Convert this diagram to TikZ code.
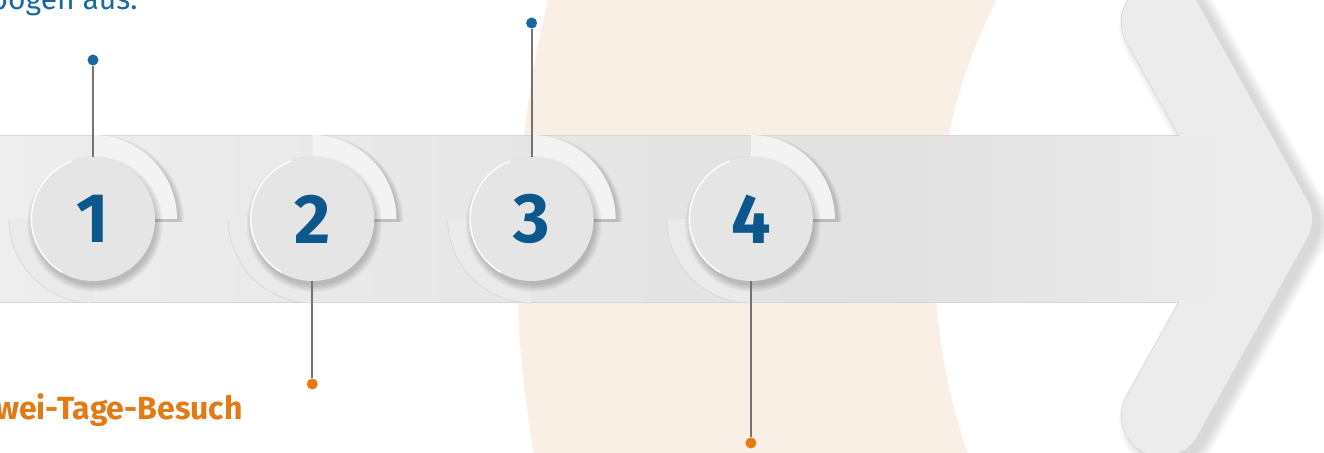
\documentclass[tikz,border=0pt]{standalone}
\usepackage{fontspec}
\setmainfont{Fira Sans}
\definecolor{peach}{RGB}{250,239,228}
\definecolor{bandL}{RGB}{238,238,238}
\definecolor{bandM}{RGB}{225,225,225}
\definecolor{bandR}{RGB}{236,236,236}
\definecolor{rim}{RGB}{214,214,214}
\definecolor{disc}{RGB}{229,229,229}
\definecolor{petal}{RGB}{243,243,243}
\definecolor{lowpetal}{RGB}{234,234,234}
\definecolor{navy}{RGB}{12,88,140}
\definecolor{sky}{RGB}{26,104,160}
\definecolor{tangerine}{RGB}{226,122,22}
\definecolor{stem}{RGB}{115,115,115}
\tikzset{
  station/.style={circle,fill=disc,minimum size=62pt,inner sep=0pt,text=navy,
    font=\fontsize{35}{35}\selectfont\bfseries},
  pin/.style={draw=stem,line width=0.9pt},
  dot/.style={circle,fill=#1,minimum size=5.5pt,inner sep=0pt},
  dot/.default=sky,
  haze/.style={fill=black,opacity=0.035},
  headline/.style={line cap=round,line join=round},
}

\begin{document}
\begin{tikzpicture}[x=0.5pt,y=0.5pt]
  \useasboundingbox (0,-234) rectangle (1324,219);
  \clip (0,-234) rectangle (1324,219);
  % background ring
  \fill[peach,even odd rule] (1617,-41) circle (1100) (1515,-41) circle (580);
  % arrow head with soft shadow
  \foreach \k in {1,...,8}{
    \pgfmathsetmacro\w{39+1.5*\k}
    \draw[black,opacity=0.018,line width=\w pt,headline] (1170,192) -- (1279.5,-5) -- (1170,-202);
  }
  \draw[rim,line width=41.2pt,headline] (1162,197) -- (1271.5,0) -- (1162,-197);
  \draw[bandR,line width=40.5pt,headline] (1162,197) -- (1271.5,0) -- (1162,-197);
  % shaft
  \shade[left color=bandL,right color=bandM] (-5,-83.5) rectangle (881,83.5);
  \shade[left color=bandM,right color=bandR] (880,-83.5) rectangle (1230,83.5);
  \draw[rim,line width=0.5pt] (0,83.5) -- (1178.8,83.5) (0,-83.5) -- (1178.8,-83.5);
  % stations
  \foreach \i in {1,...,4}{
    \pgfmathsetmacro\xc{93+219.3*(\i-1)}
    \begin{scope}[shift={(\xc,0)}]
      \foreach \k in {1,...,5}
        \fill[haze] (4,-3) -- ++(82+\k,0) arc[start angle=0,end angle=90,radius=82+\k] -- cycle;
      \fill[petal] (0,0) -- (84,0) arc[start angle=0,end angle=90,radius=84] -- cycle;
      \fill[lowpetal] (0,0) -- (-84,0) arc[start angle=180,end angle=270,radius=84] -- cycle;
      \draw[rim,line width=0.3pt] (-84,0) arc[start angle=180,end angle=270,radius=84];
      \foreach \k in {1,...,6}
        \fill[haze] (2,-5) circle (60+1.3*\k);
      \node[station] (s\i) at (0,0) {\i};
      \draw[white,line width=0.7pt] (110:61.6) arc[start angle=110,end angle=240,radius=61.6];
    \end{scope}
  }
  % pins
  \foreach \i/\y/\c in {1/159/sky,2/-165/tangerine,3/196/sky,4/-224/tangerine}{
    \pgfmathsetmacro\xc{93+219.3*(\i-1)}
    \node[dot=\c] (d\i) at (\xc,\y) {};
    \draw[pin] (s\i) -- (d\i);
  }
  % texts
  \node[anchor=base east,inner sep=0pt,text=sky,font=\fontsize{15}{18}\selectfont] (lead) at (138,209.5) {bogen aus.};
  \node[anchor=base east,inner sep=0pt,text=tangerine,font=\fontsize{16}{19}\selectfont\bfseries] (visit) at (243,-201) {wei-Tage-Besuch};
\end{tikzpicture}
\end{document}
